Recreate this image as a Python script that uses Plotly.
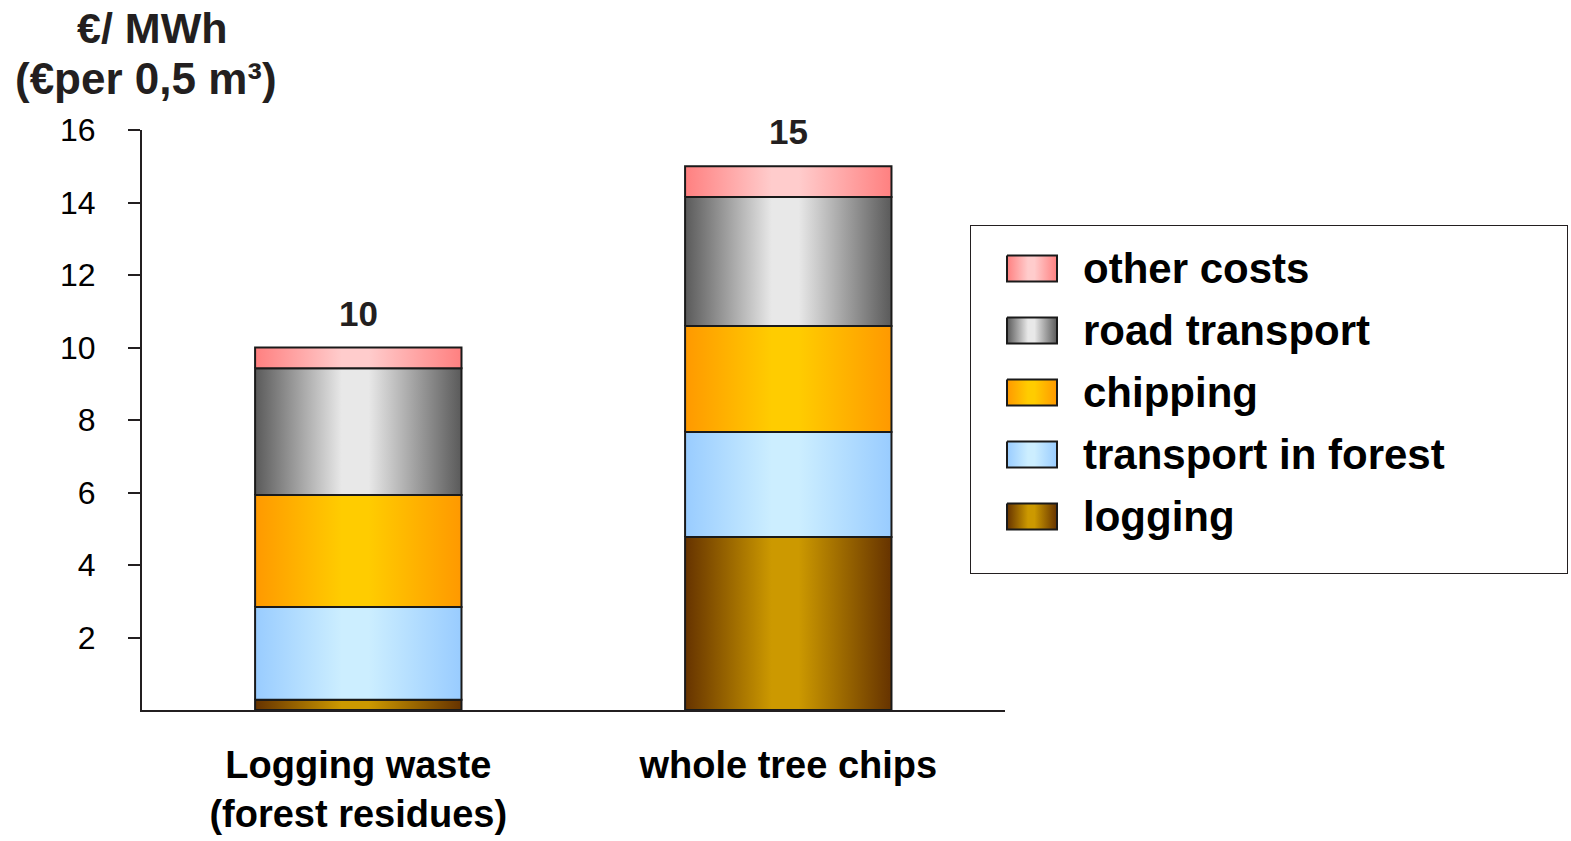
import plotly.graph_objects as go

categories = ["Logging waste<br>(forest residues)", "whole tree chips"]
series_names = ["logging", "transport in forest", "chipping", "road transport", "other costs"]
logging = [0.28, 4.77]
transport_in_forest = [2.56, 2.90]
chipping = [3.09, 2.92]
road_transport = [3.50, 3.56]
other_costs = [0.57, 0.85]
totals_labels = ["10", "15"]
y_ticks = [2, 4, 6, 8, 10, 12, 14, 16]

series_values = [logging, transport_in_forest, chipping, road_transport, other_costs]
edge_colors = ["#663300", "#99ccff", "#ff9900", "#5a5a5a", "#ff8080"]
center_colors = ["#cc9900", "#cceeff", "#ffcc00", "#e8e8e8", "#ffcccc"]

FONT = "Liberation Sans, Arial, sans-serif"
W, H = 1571, 841
ML, MR, MT, MB = 142, 0, 130, 131
PW, PH = W - ML - MR, H - MT - MB
MAIN_RIGHT = 1005           # right end of the x axis line (px)
LEG_BOX = (971, 226, 1567, 573)  # legend frame (px)
bar_width = 0.48
xpos = list(range(len(categories)))


def gradient(si):
    return [[0, edge_colors[si]], [0.42, center_colors[si]],
            [0.55, center_colors[si]], [1, edge_colors[si]]]


fig = go.Figure()

# cumulative stacking
bases = [[0.0] * len(categories)]
for vals in series_values:
    prev = bases[-1]
    bases.append([p + v for p, v in zip(prev, vals)])

for si in range(len(series_values)):
    for ci, xc in enumerate(xpos):
        y0 = bases[si][ci]
        y1 = bases[si + 1][ci]
        x0 = xc - bar_width / 2
        x1 = xc + bar_width / 2
        fig.add_trace(go.Scatter(
            x=[x0, x1, x1, x0, x0],
            y=[y0, y0, y1, y1, y0],
            mode="lines", fill="toself",
            fillgradient=dict(type="horizontal", colorscale=gradient(si)),
            line=dict(color="#1a1a1a", width=2),
            name=series_names[si], showlegend=False,
            hovertemplate=series_names[si] + ": %{customdata}<extra></extra>",
            customdata=[series_values[si][ci]] * 5,
            xaxis="x", yaxis="y",
        ))

totals = [bases[-1][ci] for ci in range(len(categories))]
for ci, xc in enumerate(xpos):
    fig.add_annotation(
        x=xc, y=totals[ci], xref="x", yref="y", text="<b>%s</b>" % totals_labels[ci],
        showarrow=False, yanchor="bottom", yshift=13,
        font=dict(family=FONT, size=35, color="#231f20"),
    )

# ---- legend panel (drawn on its own pixel-unit axes) ----
lx0, ly0, lx1, ly1 = LEG_BOX
leg_w, leg_h = lx1 - lx0, ly1 - ly0
row_first, row_step = 42.5, 62.0
sw_x0, sw_x1, sw_h = 36, 86, 26
label_x = 110
legend_order = list(range(len(series_names)))[::-1]  # other costs on top
for row, si in enumerate(legend_order):
    yc = row_first + row * row_step
    fig.add_trace(go.Scatter(
        x=[sw_x0, sw_x1, sw_x1, sw_x0, sw_x0],
        y=[yc - sw_h / 2, yc - sw_h / 2, yc + sw_h / 2, yc + sw_h / 2, yc - sw_h / 2],
        mode="lines", fill="toself",
        fillgradient=dict(type="horizontal", colorscale=gradient(si)),
        line=dict(color="#1a1a1a", width=2),
        name=series_names[si], showlegend=False, hoverinfo="skip",
        xaxis="x2", yaxis="y2",
    ))
    fig.add_annotation(
        x=label_x, y=yc, xref="x2", yref="y2", text="<b>%s</b>" % series_names[si],
        showarrow=False, xanchor="left", yanchor="middle",
        font=dict(family=FONT, size=42, color="#000000"),
    )

fig.add_shape(type="rect", xref="x2 domain", yref="y2 domain", x0=0, x1=1, y0=0, y1=1,
              line=dict(color="#231f20", width=2), fillcolor="rgba(0,0,0,0)", layer="below")

# ---- y axis title (two lines) ----
fig.add_annotation(
    xref="paper", yref="paper", x=(152 - ML) / PW, y=(H - MB - 28) / PH,
    xanchor="center", yanchor="middle", showarrow=False,
    text="<b>€/ MWh</b>", font=dict(family=FONT, size=43, color="#231f20"),
)
fig.add_annotation(
    xref="paper", yref="paper", x=(146 - ML) / PW, y=(H - MB - 78) / PH,
    xanchor="center", yanchor="middle", showarrow=False,
    text="<b>(€per 0,5 m³)</b>", font=dict(family=FONT, size=44, color="#231f20"),
)

fig.update_layout(
    width=W, height=H,
    margin=dict(l=ML, r=MR, t=MT, b=MB, autoexpand=False),
    paper_bgcolor="white", plot_bgcolor="white",
    font=dict(family=FONT, color="#231f20"),
    showlegend=False,
    xaxis=dict(
        domain=[0, (MAIN_RIGHT - ML) / PW],
        range=[-0.503, 1.504], tickmode="array", tickvals=xpos, ticktext=categories,
        showline=True, linecolor="#231f20", linewidth=2, ticks="", showgrid=False,
        zeroline=False, tickfont=dict(family=FONT, size=38, color="#000000", weight="bold"),
        ticklabelstandoff=20, fixedrange=True, automargin=False,
    ),
    yaxis=dict(
        range=[0, 16], tickmode="array", tickvals=y_ticks,
        showline=True, linecolor="#231f20", linewidth=2, ticks="outside", ticklen=12,
        tickcolor="#231f20", tickwidth=2, showgrid=False, zeroline=False,
        tickfont=dict(family=FONT, size=32, color="#000000"),
        ticklabelstandoff=26, fixedrange=True, automargin=False,
    ),
    xaxis2=dict(
        domain=[(lx0 - ML) / PW, (lx1 - ML) / PW], range=[0, leg_w],
        visible=False, fixedrange=True, anchor="y2",
    ),
    yaxis2=dict(
        domain=[(H - MB - ly1) / PH, (H - MB - ly0) / PH], range=[leg_h, 0],
        visible=False, fixedrange=True, anchor="x2",
    ),
)

fig.write_html("out.html")
